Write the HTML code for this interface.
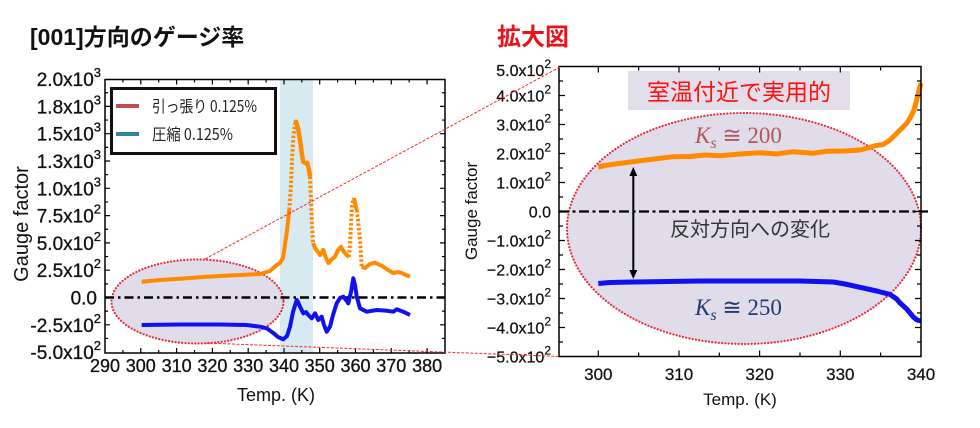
<!DOCTYPE html>
<html><head><meta charset="utf-8">
<style>html,body{margin:0;padding:0;background:#fff}svg{display:block}</style>
</head><body>
<svg width="980" height="428" viewBox="0 0 980 428" xmlns="http://www.w3.org/2000/svg" font-family="'Liberation Sans','Noto Sans CJK JP',sans-serif">
<rect width="980" height="428" fill="#fff"/>

<!-- Titles -->
<text x="30" y="45" font-size="23" font-weight="bold" fill="#111">[001]方向のゲージ率</text>
<text x="497" y="45" font-size="24" font-weight="bold" fill="#e8141c">拡大図</text>

<!-- ============ LEFT PLOT ============ -->
<rect x="280" y="79.5" width="33" height="273.5" fill="#d6eaf0"/>
<ellipse cx="197.5" cy="301.5" rx="86" ry="42" fill="#e0dcea" stroke="#e8303a" stroke-width="2.2" stroke-dasharray="0.1 3.2" stroke-linecap="round"/>
<line x1="105" y1="297.5" x2="445" y2="297.5" stroke="#000" stroke-width="2.5" stroke-dasharray="9 4 2.5 4"/>

<!-- orange left -->
<g fill="none" stroke="#ff8a00" stroke-linejoin="round">
<polyline stroke-width="4" points="141.7,281.7 160,280 180,278.7 206.7,276.7 230,275.5 260,274 270,271 276.7,265 280,263 283,258 286.7,233 289.3,210"/>
<polyline stroke-width="4" stroke-dasharray="2.5 2" points="289.3,210 291,185 292,160 293.5,135 295,123"/>
<polyline stroke-width="4.5" points="295,123 296,121.7 298,128 300,140 302,155 303.3,161.7 305,163 307.3,163 309,170 310,176.7"/>
<polyline stroke-width="4" stroke-dasharray="2.5 2" points="310,176.7 311,200 312,225 313,243"/>
<polyline stroke-width="4" points="313,243 315,248 318,252 320,255 323.3,250 326,258 328.3,263 332,259 335,256.7 338,250 341,246.7 344,252 346.7,255 349,257"/>
<polyline stroke-width="4" stroke-dasharray="2.5 2" points="349,257 350,245 351,225 352,205 354,198"/>
<polyline stroke-width="4" points="354,198 356.7,210"/>
<polyline stroke-width="4" stroke-dasharray="2.5 2" points="356.7,210 358,220 360,240 361.7,266.7"/>
<polyline stroke-width="4" points="361.7,266.7 365,268 370,264 375,262.7 380,265 383.3,266.7 388,270 393.3,273 398,272 401.7,273 406,275 410,276.7"/>
</g>
<!-- blue left -->
<polyline fill="none" stroke="#1010f0" stroke-width="4" stroke-linejoin="round" points="141.7,325 180,324.5 220,324.5 246.7,325 260,326.7 266.7,328.3 273.3,333 278,337 283.3,339.3 287,336 290,326.7 293,312 296.7,300 298,302 300,306.7 303.3,313.3 306,312 308.3,315 311.7,318.3 315,313.3 318.3,320 321.7,316.7 324,325 326.7,331.7 330,326.7 333,315 336.7,303.3 340,298 343.3,296.7 346,300 348.3,303.3 351,292 353.3,278.3 355,285 356.7,296.7 360,308.3 366.7,311.7 376.7,310 386.7,310.7 393.3,311.7 396.7,309.3 403.3,311.7 410,315"/>

<!-- left axes -->
<rect x="105" y="79.5" width="340" height="273.5" fill="none" stroke="#000" stroke-width="1.5"/>
<path stroke="#000" stroke-width="1.2" fill="none" d="
M140.8,353v-5M176.6,353v-5M212.4,353v-5M248.2,353v-5M284,353v-5M319.7,353v-5M355.5,353v-5M391.3,353v-5M427.1,353v-5
M122.9,353v-3M158.7,353v-3M194.5,353v-3M230.3,353v-3M266.1,353v-3M301.8,353v-3M337.6,353v-3M373.4,353v-3M409.2,353v-3
M140.8,79.5v5M176.6,79.5v5M212.4,79.5v5M248.2,79.5v5M284,79.5v5M319.7,79.5v5M355.5,79.5v5M391.3,79.5v5M427.1,79.5v5
M122.9,79.5v3M158.7,79.5v3M194.5,79.5v3M230.3,79.5v3M266.1,79.5v3M301.8,79.5v3M337.6,79.5v3M373.4,79.5v3M409.2,79.5v3
M105,106.4h5M105,133.7h5M105,161h5M105,188.3h5M105,215.6h5M105,242.9h5M105,270.2h5M105,297.5h5M105,324.8h5
M105,92.75h3M105,120.05h3M105,147.35h3M105,174.65h3M105,201.95h3M105,229.25h3M105,256.55h3M105,283.85h3M105,311.15h3M105,338.45h3
M445,106.4h-5M445,133.7h-5M445,161h-5M445,188.3h-5M445,215.6h-5M445,242.9h-5M445,270.2h-5M445,297.5h-5M445,324.8h-5
M445,92.75h-3M445,120.05h-3M445,147.35h-3M445,174.65h-3M445,201.95h-3M445,229.25h-3M445,256.55h-3M445,283.85h-3M445,311.15h-3M445,338.45h-3"/>

<!-- left y tick labels -->
<g font-size="19" fill="#111" stroke="#111" stroke-width="0.3" text-anchor="end">
<text x="101" y="86">2.0x10<tspan dy="-9" font-size="13">3</tspan></text>
<text x="101" y="113.4">1.8x10<tspan dy="-9" font-size="13">3</tspan></text>
<text x="101" y="140.7">1.5x10<tspan dy="-9" font-size="13">3</tspan></text>
<text x="101" y="168">1.3x10<tspan dy="-9" font-size="13">3</tspan></text>
<text x="101" y="195.3">1.0x10<tspan dy="-9" font-size="13">3</tspan></text>
<text x="101" y="222.6">7.5x10<tspan dy="-9" font-size="13">2</tspan></text>
<text x="101" y="249.9">5.0x10<tspan dy="-9" font-size="13">2</tspan></text>
<text x="101" y="277.2">2.5x10<tspan dy="-9" font-size="13">2</tspan></text>
<text x="97" y="304.5">0.0</text>
<text x="101" y="331.8">-2.5x10<tspan dy="-9" font-size="13">2</tspan></text>
<text x="101" y="359.1">-5.0x10<tspan dy="-9" font-size="13">2</tspan></text>
</g>
<!-- left x tick labels -->
<g font-size="18" fill="#111" stroke="#111" stroke-width="0.3" text-anchor="middle">
<text x="105" y="372">290</text><text x="140.8" y="372">300</text><text x="176.6" y="372">310</text><text x="212.4" y="372">320</text><text x="248.2" y="372">330</text><text x="284" y="372">340</text><text x="319.7" y="372">350</text><text x="355.5" y="372">360</text><text x="391.3" y="372">370</text><text x="427.1" y="372">380</text>
</g>
<text x="276" y="401" font-size="18" fill="#111" text-anchor="middle">Temp. (K)</text>
<text transform="translate(28,224) rotate(-90)" font-size="20" fill="#111" text-anchor="middle">Gauge factor</text>

<!-- legend -->
<rect x="111.5" y="88.5" width="164" height="65" fill="#fff" stroke="#111" stroke-width="3"/>
<line x1="116" y1="106" x2="139" y2="106" stroke="#c0504d" stroke-width="4"/>
<line x1="116" y1="134" x2="139" y2="134" stroke="#31849b" stroke-width="4"/>
<text x="152" y="112" font-size="16" fill="#222" textLength="105" lengthAdjust="spacingAndGlyphs" font-family="'Noto Sans CJK JP',sans-serif">引っ張り 0.125%</text>
<text x="152" y="140" font-size="16" fill="#222" textLength="81" lengthAdjust="spacingAndGlyphs" font-family="'Noto Sans CJK JP',sans-serif">圧縮 0.125%</text>

<!-- ============ RIGHT PLOT ============ -->
<ellipse cx="744" cy="228.5" rx="177" ry="115.5" fill="#e0dcea" stroke="#e8303a" stroke-width="2.2" stroke-dasharray="0.1 3.2" stroke-linecap="round"/>
<rect x="628" y="71" width="222" height="39" fill="#e2dfea"/>
<text x="739" y="100" font-size="23" fill="#ff1010" text-anchor="middle" font-family="'Noto Sans CJK JP',sans-serif">室温付近で実用的</text>
<line x1="559" y1="211.5" x2="928" y2="211.5" stroke="#000" stroke-width="2.2" stroke-dasharray="10 3.5 3 3.5"/>

<polyline fill="none" stroke="#ff8a00" stroke-width="5" stroke-linejoin="round" points="598.3,167 605,165.5 615,164 633,161.7 650,159.5 673.3,156.7 690,156.5 705,155 720,155.7 740,154 760,152.7 776.7,154 793,151.7 813.3,153.3 826.7,151.3 845,151 860,150 868,148 875,145.7 883,144.5 890,140 900,130 906,124 910,118.3 914,110 916.7,100 919,90 921,83"/>
<polyline fill="none" stroke="#1010f0" stroke-width="5" stroke-linejoin="round" points="598.3,283.5 610,282.5 633,282 700,281 760,281 800,281 833.3,282 845,284 860,287.3 876.7,291 890,294.5 896.7,299 900,303 906.7,309 913.3,317 917,320 921,321"/>

<!-- arrow -->
<line x1="633.3" y1="174" x2="633.3" y2="272" stroke="#000" stroke-width="2"/>
<polygon points="633.3,167 629.3,176 637.3,176" fill="#000"/>
<polygon points="633.3,279 629.3,270 637.3,270" fill="#000"/>

<text x="695" y="143" font-size="23" fill="#b0585c" font-family="'Liberation Serif','DejaVu Serif',serif"><tspan font-style="italic">K</tspan><tspan font-style="italic" font-size="16" dy="5">s</tspan><tspan dy="-5"> ≅ 200</tspan></text>
<text x="670" y="236" font-size="20" fill="#333" font-family="'Noto Sans CJK JP',sans-serif">反対方向への変化</text>
<text x="695" y="315" font-size="23" fill="#1f3a70" font-family="'Liberation Serif','DejaVu Serif',serif"><tspan font-style="italic">K</tspan><tspan font-style="italic" font-size="16" dy="5">s</tspan><tspan dy="-5"> ≅ 250</tspan></text>

<!-- right axes -->
<rect x="559" y="66.5" width="362" height="290" fill="none" stroke="#000" stroke-width="1.5"/>
<path stroke="#000" stroke-width="1.2" fill="none" d="
M598.3,356.5v-6M679,356.5v-6M759.6,356.5v-6M840.3,356.5v-6
M638.6,356.5v-4M719.3,356.5v-4M800,356.5v-4M880.6,356.5v-4
M598.3,66.5v6M679,66.5v6M759.6,66.5v6M840.3,66.5v6
M638.6,66.5v4M719.3,66.5v4M800,66.5v4M880.6,66.5v4
M559,95.5h6M559,124.5h6M559,153.5h6M559,182.5h6M559,211.5h6M559,240.5h6M559,269.5h6M559,298.5h6M559,327.5h6
M559,81h4M559,110h4M559,139h4M559,168h4M559,197h4M559,226h4M559,255h4M559,284h4M559,313h4M559,342h4
M921,95.5h-6M921,124.5h-6M921,153.5h-6M921,182.5h-6M921,211.5h-6M921,240.5h-6M921,269.5h-6M921,298.5h-6M921,327.5h-6
M921,81h-4M921,110h-4M921,139h-4M921,168h-4M921,197h-4M921,226h-4M921,255h-4M921,284h-4M921,313h-4M921,342h-4"/>

<g font-size="16" fill="#111" stroke="#111" stroke-width="0.25" text-anchor="end">
<text x="551" y="76">5.0x10<tspan dy="-8" font-size="12">2</tspan></text>
<text x="551" y="101.5">4.0x10<tspan dy="-8" font-size="12">2</tspan></text>
<text x="551" y="130.5">3.0x10<tspan dy="-8" font-size="12">2</tspan></text>
<text x="551" y="159.5">2.0x10<tspan dy="-8" font-size="12">2</tspan></text>
<text x="551" y="188.5">1.0x10<tspan dy="-8" font-size="12">2</tspan></text>
<text x="551" y="217.5">0.0</text>
<text x="551" y="246.5">−1.0x10<tspan dy="-8" font-size="12">2</tspan></text>
<text x="551" y="275.5">−2.0x10<tspan dy="-8" font-size="12">2</tspan></text>
<text x="551" y="304.5">−3.0x10<tspan dy="-8" font-size="12">2</tspan></text>
<text x="551" y="333.5">−4.0x10<tspan dy="-8" font-size="12">2</tspan></text>
<text x="551" y="362.5">−5.0x10<tspan dy="-8" font-size="12">2</tspan></text>
</g>
<g font-size="17" fill="#111" stroke="#111" stroke-width="0.25" text-anchor="middle">
<text x="598.3" y="380">300</text><text x="679" y="380">310</text><text x="759.6" y="380">320</text><text x="840.3" y="380">330</text><text x="921" y="380">340</text>
</g>
<text x="740" y="405" font-size="17" fill="#111" text-anchor="middle">Temp. (K)</text>
<text transform="translate(477,211) rotate(-90)" font-size="17" fill="#111" text-anchor="middle">Gauge factor</text>

<!-- connectors -->
<line x1="205" y1="259" x2="560" y2="67" stroke="#ff2a2a" stroke-width="1" stroke-dasharray="3 1.5"/>
<line x1="205" y1="343" x2="560" y2="356.5" stroke="#ff2a2a" stroke-width="1" stroke-dasharray="3 1.5"/>
</svg>
</body></html>
